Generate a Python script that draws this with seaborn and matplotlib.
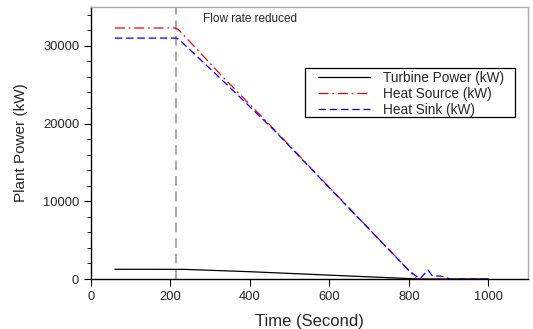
import numpy as np
import pandas as pd
import matplotlib
matplotlib.use("Agg")
import matplotlib.pyplot as plt
import seaborn as sns
from matplotlib.patches import Rectangle
from matplotlib.ticker import MultipleLocator

# ── Data ──────────────────────────────────────────────────────────────────────
turbine_t = [60, 236, 300, 400, 526, 652, 777, 830, 1000]
turbine_p = [1250, 1240, 1120, 940, 660, 380, 110, 0, 0]

source_t = [60, 212, 220, 337, 460, 580, 700, 800, 820, 1000]
source_p = [32300, 32300, 32100, 25730, 19300, 12850, 6450, 1100, 0, 0]

sink_t = [60, 215, 222, 332, 460, 580, 700, 800, 828, 848, 860, 873, 890, 903, 1000]
sink_p = [31000, 31000, 30800, 25510, 19200, 12800, 6420, 1100, 0, 1150, 380, 400, 300, 0, 0]

EVENT_T = 215
EVENT_LABEL = "Flow rate reduced"

# ── Style ─────────────────────────────────────────────────────────────────────
sns.set_style("ticks")
plt.rcParams["font.family"] = ["Liberation Sans", "DejaVu Sans"]

fig, ax = plt.subplots(figsize=(5.33, 3.29), dpi=100)
fig.subplots_adjust(left=91/533, right=528/533, bottom=1 - 279/329, top=1 - 7/329)

sns.lineplot(x=turbine_t, y=turbine_p, ax=ax, color="black", linewidth=0.9,
             label="Turbine Power (kW)")
sns.lineplot(x=source_t, y=source_p, ax=ax, color="red", linewidth=0.9,
             label="Heat Source (kW)")
sns.lineplot(x=sink_t, y=sink_p, ax=ax, color="blue", linewidth=0.9,
             label="Heat Sink (kW)")
ax.lines[1].set_dashes([8, 3, 1.5, 3])
ax.lines[2].set_dashes([6, 3])

ax.axvline(EVENT_T, color="#aaaaaa", linewidth=1.4, linestyle=(0, (5, 3)), zorder=1)
ax.text(EVENT_T + 67, 33450, EVENT_LABEL, fontsize=8.5, va="center", ha="left")

ax.set_xlim(0, 1100)
ax.set_ylim(0, 35000)
ax.set_xticks([0, 200, 400, 600, 800, 1000])
ax.yaxis.set_major_locator(MultipleLocator(10000))
ax.yaxis.set_minor_locator(MultipleLocator(2000))
ax.tick_params(axis="both", which="major", length=5, width=0.8, labelsize=9.3, color="black")
ax.tick_params(axis="y", which="minor", length=3, width=0.6, color="black")

for side in ["left", "bottom"]:
    ax.spines[side].set_color("black")
    ax.spines[side].set_linewidth(1.0)
for side in ["top", "right"]:
    ax.spines[side].set_visible(True)
    ax.spines[side].set_color("#aaaaaa")
    ax.spines[side].set_linewidth(1.0)

ax.set_xlabel("Time (Second)", fontsize=12, labelpad=8)
ax.set_ylabel("Plant Power (kW)", fontsize=11, labelpad=11)

# legend box: wide side padding, tight top/bottom, so the frame is drawn apart
ax.add_patch(Rectangle((0.490, 0.596), 0.480, 0.180, transform=ax.transAxes,
                       facecolor="white", edgecolor="black", linewidth=0.9, zorder=4))
leg = ax.legend(loc="upper left", bbox_to_anchor=(0.519, 0.765), borderaxespad=0,
                fontsize=9.8, frameon=False, handlelength=3.8, handletextpad=1.0,
                borderpad=0, labelspacing=0.14)
leg.set_zorder(5)
leg_lines = leg.get_lines()
leg_lines[1].set_dashes([8, 3, 1.5, 3])
leg_lines[2].set_dashes([6, 3])

fig.savefig("out.png", dpi=100)
